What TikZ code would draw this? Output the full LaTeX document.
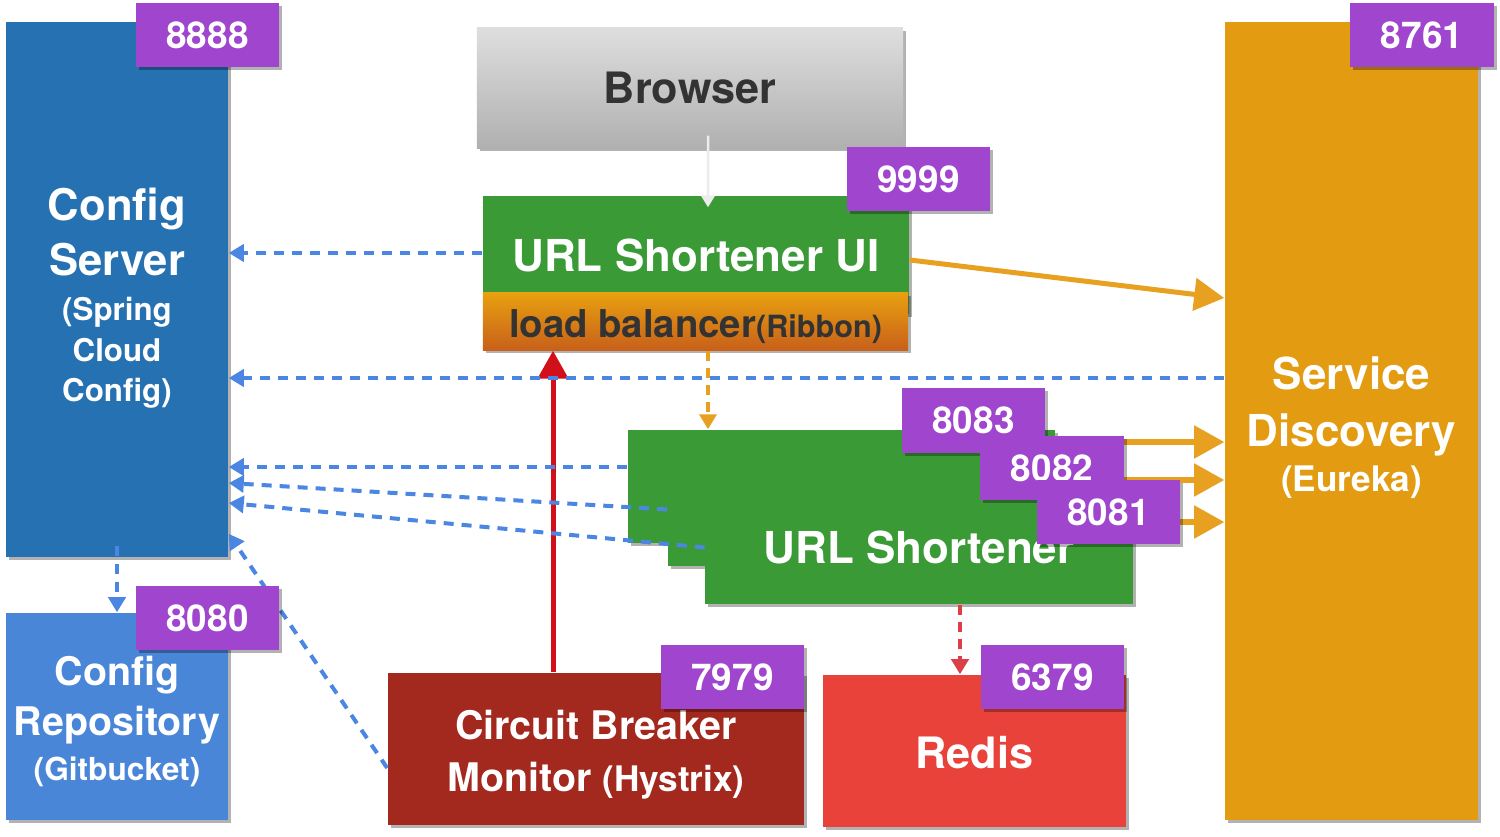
\documentclass[tikz,border=0pt]{standalone}
\usepackage{fontspec}
\setmainfont{TeX Gyre Heros}
\usetikzlibrary{arrows.meta}
\usetikzlibrary{shadows}

\definecolor{cfgblue}{RGB}{38,113,177}
\definecolor{repoblue}{RGB}{74,134,216}
\definecolor{portpurple}{RGB}{160,69,205}
\definecolor{svcgreen}{RGB}{58,154,54}
\definecolor{eurekaorange}{RGB}{227,156,18}
\definecolor{lbtop}{RGB}{232,160,16}
\definecolor{lbbottom}{RGB}{200,96,26}
\definecolor{browsertop}{RGB}{222,222,222}
\definecolor{browserbottom}{RGB}{176,176,176}
\definecolor{hystrixred}{RGB}{163,40,30}
\definecolor{redisred}{RGB}{232,66,58}
\definecolor{linkblue}{RGB}{74,134,226}
\definecolor{linkorange}{RGB}{232,160,32}
\definecolor{linkred}{RGB}{210,16,26}
\definecolor{darktext}{RGB}{51,51,51}

\newcommand\sz[2]{\fontsize{#1}{#2}\selectfont}

\begin{document}
\begin{tikzpicture}[x=0.01cm,y=-0.01cm,
  box/.style={rectangle,inner sep=0pt,align=center,text=white,drop shadow={shadow xshift=0.03cm,shadow yshift=-0.03cm,opacity=0.3,fill=black}},
  port/.style={box,fill=portpurple,minimum width=1.43cm,minimum height=0.64cm,font=\bfseries\sz{10.5pt}{12pt}},
  service/.style={box,fill=svcgreen,minimum width=4.27cm,minimum height=1.13cm,font=\bfseries\sz{12.5pt}{15pt}},
  configlink/.style={linkblue,line width=0.04cm,dash pattern=on 0.1cm off 0.08cm,-{Triangle[length=0.15cm,width=0.17cm]}},
  eurekalink/.style={linkorange,line width=0.05cm,-{Triangle[length=0.3cm,width=0.32cm]}},
  balancelink/.style={linkorange,line width=0.04cm,dash pattern=on 0.1cm off 0.07cm,-{Triangle[length=0.15cm,width=0.17cm]}},
  hystrixlink/.style={linkred,line width=0.05cm,-{Triangle[length=0.28cm,width=0.3cm]}},
  redislink/.style={linkred!80!white,line width=0.04cm,dash pattern=on 0.1cm off 0.07cm,-{Triangle[length=0.15cm,width=0.17cm]}},
  browserlink/.style={gray!15,line width=0.025cm,-{Triangle[length=0.12cm,width=0.14cm]}}]
\path[use as bounding box,fill=white] (0,0) rectangle (1500,837);

\node[box,fill=cfgblue,minimum width=2.22cm,minimum height=5.35cm,font=\bfseries\sz{12.4pt}{15.6pt}] (cfg) at (117,289.5) {\rule{0pt}{14.3pt}Config\\Server\\[-2.8pt]\sz{8.9pt}{11pt}(Spring\\[-3.9pt]\sz{8.9pt}{11pt}Cloud\\[-4.2pt]\sz{8.9pt}{11pt}Config)};
\node[box,fill=repoblue,minimum width=2.22cm,minimum height=2.07cm,font=\bfseries\sz{11.2pt}{14.2pt}] (repo) at (117,716.5) {\rule{0pt}{11.1pt}Config\\Repository\\[-1.4pt]\sz{9pt}{11pt}(Gitbucket)};
\node[box,top color=browsertop,bottom color=browserbottom,text=darktext,minimum width=4.26cm,minimum height=1.2cm,font=\bfseries\sz{12.3pt}{15pt}] (browser) at (690,88) {Browser};
\node[box,fill=svcgreen,minimum width=4.26cm,minimum height=1.18cm,font=\bfseries\sz{12.5pt}{15pt}] (ui) at (696,255) {URL Shortener UI};
\node[box,top color=lbtop,bottom color=lbbottom,text=darktext,minimum width=4.25cm,minimum height=0.57cm,font=\bfseries\sz{10.9pt}{13pt}] (lb) at (695.5,321.5) {\rule{0pt}{10.8pt}load balancer{\sz{8.7pt}{10pt}(Ribbon)}};
\node[box,fill=eurekaorange,minimum width=2.53cm,minimum height=7.98cm,font=\bfseries\sz{12.5pt}{16.2pt}] (sd) at (1351.5,421) {\rule{0pt}{13.3pt}Service\\Discovery\\[-3.4pt]\sz{10pt}{12pt}(Eureka)};
\node[service] (b1) at (841.5,486.5) {};
\node[service] (b2) at (881.5,509.5) {};
\node[service] (b3) at (919,547.5) {URL Shortener};
\node[box,fill=hystrixred,minimum width=4.16cm,minimum height=1.52cm,font=\bfseries\sz{11.2pt}{14.8pt}] (cb) at (596,749) {\rule{0pt}{11.7pt}Circuit Breaker\\Monitor {\sz{10pt}{12pt}(Hystrix)}};
\node[box,fill=redisred,minimum width=3.03cm,minimum height=1.52cm,font=\bfseries\sz{12.3pt}{15pt}] (redis) at (974.5,751) {\rule{0pt}{9.9pt}Redis};

\draw[browserlink] ([xshift=0.18cm,yshift=0.13cm]browser.south) -- ([xshift=0.12cm,yshift=-0.12cm]ui.north);
\draw[hystrixlink] (cb.north -| 553,0) -- (lb.south -| 553,0);
\draw[balancelink] (lb.south -| 708,0) -- (b1.north -| 708,0);
\draw[redislink] (b3.south -| 960,0) -- (redis.north -| 960,0);
\draw[eurekalink] (ui.east |- 0,260) -- (sd.west |- 0,298);
\draw[eurekalink] (b1.east |- 0,442) -- (sd.west |- 0,442);
\draw[eurekalink] (b2.east |- 0,480) -- (sd.west |- 0,480);
\draw[eurekalink] (b3.east |- 0,522) -- (sd.west |- 0,522);

\draw[configlink] (ui.west |- 0,253) -- (cfg.east |- 0,253);
\draw[configlink] (sd.west |- 0,378) -- (cfg.east |- 0,378);
\draw[configlink] (b1.west |- 0,467) -- (cfg.east |- 0,467);
\draw[configlink] (b2.west) -- (cfg.east |- 0,483);
\draw[configlink] (b3.west) -- (cfg.east |- 0,503);
\draw[configlink] (cb.west |- 0,768) -- ([yshift=0.24cm]cfg.south east);
\draw[configlink] ([yshift=0.12cm]cfg.south) -- (repo.north);

\node[port] (p8888) at (207.5,35) {8888};
\node[port] (p8080) at (207.5,618) {8080};
\node[port] (p9999) at (918.5,179) {9999};
\node[port] (p8761) at (1422,35) {8761};
\node[port] (p8083) at (973.5,420.5) {8083};
\node[port] (p8082) at (1052,468) {8082};
\node[port] (p8081) at (1108.5,512) {8081};
\node[port] (p7979) at (732.5,677) {7979};
\node[port] (p6379) at (1052.5,677) {6379};
\end{tikzpicture}
\end{document}
